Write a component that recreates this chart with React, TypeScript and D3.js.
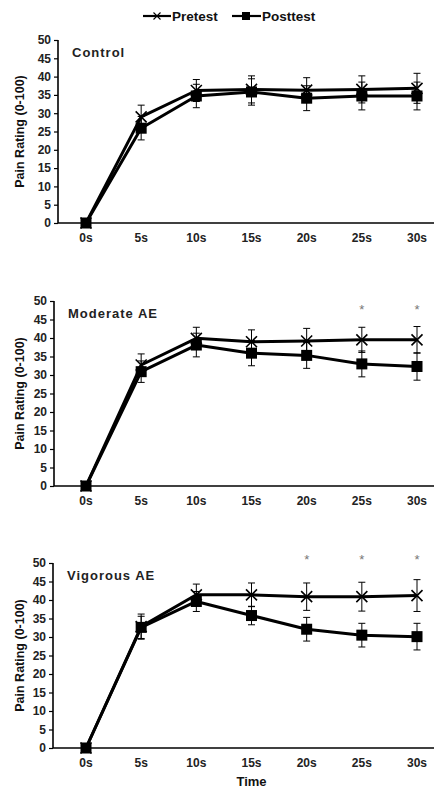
import React, { useRef, useEffect } from 'react';
import * as d3 from 'd3';

const times = ['0s', '5s', '10s', '15s', '20s', '25s', '30s'];
const yTicks = [0, 5, 10, 15, 20, 25, 30, 35, 40, 45, 50];

const panelTitles = ['Control', 'Moderate AE', 'Vigorous AE'];

const controlPre = [0, 29.0, 36.2, 36.5, 36.3, 36.5, 36.8];
const controlPreErr = [0.8, 3.2, 3.0, 3.7, 3.4, 3.7, 4.1];
const controlPost = [0, 25.9, 34.7, 35.8, 34.1, 34.7, 34.7];
const controlPostErr = [0.8, 3.2, 3.2, 3.6, 3.4, 3.8, 3.8];

const moderatePre = [0, 32.7, 39.9, 39.0, 39.2, 39.5, 39.5];
const moderatePreErr = [0.8, 3.0, 3.0, 3.2, 3.4, 3.4, 3.6];
const moderatePost = [0, 30.9, 38.1, 35.9, 35.3, 33.0, 32.3];
const moderatePostErr = [0.8, 2.9, 3.2, 3.4, 3.5, 3.5, 3.7];

const vigorousPre = [0, 32.8, 41.4, 41.4, 40.9, 40.9, 41.2];
const vigorousPreErr = [0.8, 3.4, 2.9, 3.2, 3.7, 3.9, 4.3];
const vigorousPost = [0, 32.6, 39.6, 35.8, 32.1, 30.5, 30.1];
const vigorousPostErr = [0.8, 3.0, 2.7, 2.5, 3.2, 3.2, 3.6];

// significance markers: time label and height (in rating units)
const moderateStars = ['25s', '30s'];
const vigorousStars = ['20s', '25s', '30s'];
const starLevel = [0, 48.4, 51.7];

const panels = [
  { title: panelTitles[0], pre: controlPre, preErr: controlPreErr, post: controlPost, postErr: controlPostErr, stars: [] as string[], top: 40, bottom: 223, left: 58 },
  { title: panelTitles[1], pre: moderatePre, preErr: moderatePreErr, post: moderatePost, postErr: moderatePostErr, stars: moderateStars, top: 301, bottom: 486, left: 54 },
  { title: panelTitles[2], pre: vigorousPre, preErr: vigorousPreErr, post: vigorousPost, postErr: vigorousPostErr, stars: vigorousStars, top: 563, bottom: 748, left: 53 },
];

const W = 434;
const H = 792;
const FONT = 'Liberation Sans, Arial, sans-serif';

const App = () => {
  const svgRef = useRef<SVGSVGElement>(null);

  useEffect(() => {
    const svg = d3.select(svgRef.current).attr('width', W).attr('height', H).html('');

    const x = d3.scalePoint<string>().domain(times).range([86, 417]);

    const xMark = (g: any, cx: number, cy: number, r: number, w = 1.6) => {
      g.append('path')
        .attr('d', `M${cx - r},${cy - r}L${cx + r},${cy + r}M${cx - r},${cy + r}L${cx + r},${cy - r}`)
        .attr('stroke', '#000').attr('stroke-width', w).attr('fill', 'none');
    };

    // Legend
    const lg = svg.append('g').attr('font-family', FONT).attr('font-weight', 'bold').attr('font-size', 13.5);
    lg.append('line').attr('x1', 143).attr('x2', 171).attr('y1', 16).attr('y2', 16).attr('stroke', '#000').attr('stroke-width', 2.2);
    xMark(lg, 157, 16, 3.5, 1.1);
    lg.append('text').attr('x', 172).attr('y', 21).attr('fill', '#111').text('Pretest');
    lg.append('line').attr('x1', 232).attr('x2', 261).attr('y1', 16).attr('y2', 16).attr('stroke', '#000').attr('stroke-width', 2.2);
    lg.append('rect').attr('x', 242).attr('y', 12).attr('width', 8).attr('height', 8).attr('fill', '#000');
    lg.append('text').attr('x', 262).attr('y', 21).attr('fill', '#111').text('Posttest');

    panels.forEach((p, pi) => {
      const y = d3.scaleLinear().domain([0, 50]).range([p.bottom, p.top]);
      const g = svg.append('g');

      // y axis
      const ya = g.append('g')
        .attr('transform', `translate(${p.left},0)`)
        .call(d3.axisLeft(y).tickValues(yTicks).tickSize(4).tickPadding(3));
      ya.select('.domain').attr('stroke', '#000').attr('stroke-width', 1.6).attr('d', `M0,${p.top}V${p.bottom}`);
      ya.selectAll('.tick line').attr('stroke', '#000').attr('stroke-width', 1.2);
      ya.selectAll('.tick text')
        .attr('font-family', FONT).attr('font-weight', 'bold').attr('font-size', 12).attr('fill', '#222');

      // x axis
      g.append('line')
        .attr('x1', p.left).attr('x2', W).attr('y1', p.bottom).attr('y2', p.bottom)
        .attr('stroke', '#000').attr('stroke-width', 1.6);
      g.selectAll('.xt').data(times).enter().append('text')
        .attr('x', d => x(d)!).attr('y', p.bottom + 19)
        .attr('text-anchor', 'middle')
        .attr('font-family', FONT).attr('font-weight', 'bold').attr('font-size', 12).attr('fill', '#222')
        .text(d => d);

      // y label
      g.append('text')
        .attr('transform', `translate(24,${(p.top + p.bottom) / 2}) rotate(-90)`)
        .attr('text-anchor', 'middle')
        .attr('font-family', FONT).attr('font-weight', 'bold').attr('font-size', 12.5).attr('fill', '#111')
        .text('Pain Rating (0-100)');

      // panel title
      g.append('text')
        .attr('x', p.left + 14).attr('y', p.top + 17)
        .attr('font-family', FONT).attr('font-weight', 'bold').attr('font-size', 13)
        .attr('letter-spacing', 1).attr('fill', '#222')
        .text(p.title);

      const line = d3.line<number>().x((_, i) => x(times[i])!).y(d => y(d));

      const series = [
        { v: p.post, e: p.postErr, kind: 'sq' },
        { v: p.pre, e: p.preErr, kind: 'x' },
      ];

      series.forEach(s => {
        // error bars
        s.v.forEach((v, i) => {
          const cx = x(times[i])!;
          const eb = g.append('g').attr('stroke', '#000').attr('stroke-width', 1);
          eb.append('line').attr('x1', cx).attr('x2', cx).attr('y1', y(v - s.e[i])).attr('y2', y(v + s.e[i]));
          eb.append('line').attr('x1', cx - 3.5).attr('x2', cx + 3.5).attr('y1', y(v + s.e[i])).attr('y2', y(v + s.e[i]));
          eb.append('line').attr('x1', cx - 3.5).attr('x2', cx + 3.5).attr('y1', y(v - s.e[i])).attr('y2', y(v - s.e[i]));
        });
        g.append('path').datum(s.v).attr('d', line)
          .attr('fill', 'none').attr('stroke', '#000').attr('stroke-width', 3).attr('stroke-linejoin', 'round');
      });

      series.forEach(s => {
        s.v.forEach((v, i) => {
          const cx = x(times[i])!;
          const cy = y(v);
          if (s.kind === 'sq') {
            g.append('rect').attr('x', cx - 5.5).attr('y', cy - 5.5).attr('width', 11).attr('height', 11).attr('fill', '#000');
          } else {
            xMark(g, cx, cy, 5.5);
          }
        });
      });

      // significance stars
      g.selectAll('.star').data(p.stars).enter().append('text')
        .attr('x', d => x(d)!).attr('y', y(starLevel[pi]) + 7)
        .attr('text-anchor', 'middle')
        .attr('font-family', FONT).attr('font-size', 13).attr('fill', '#777')
        .text('*');
    });

    // x axis title
    svg.append('text')
      .attr('x', x('15s')!).attr('y', 786)
      .attr('text-anchor', 'middle')
      .attr('font-family', FONT).attr('font-weight', 'bold').attr('font-size', 13).attr('fill', '#111')
      .text('Time');
  }, []);

  return <svg ref={svgRef} style={{ position: 'absolute', left: 0, top: 0, background: '#fff' }} />;
};

export default App;
